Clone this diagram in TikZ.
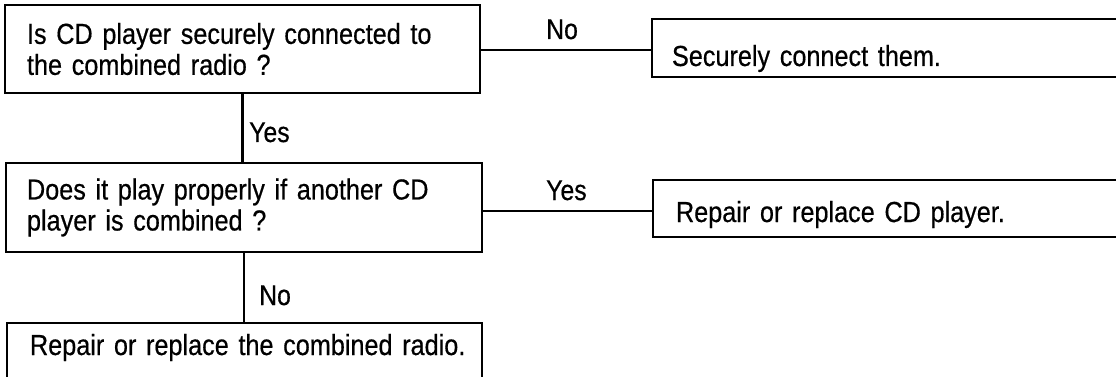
\documentclass[tikz,border=0pt]{standalone}
\usepackage{fontspec}
\setmainfont{Liberation Sans}[FakeStretch=0.87, WordSpace=0.75, FakeBold=0.5]
\begin{document}
\begin{tikzpicture}[x=1pt,y=-1pt]
\tikzset{
  box/.style={draw, line width=2.6pt, outer sep=0pt, inner ysep=0pt, align=left,
    anchor=north west, font=\fontsize{29}{31}\selectfont},
  conn/.style={line width=2.1pt},
  lbl/.style={font=\fontsize{28.5}{30}\selectfont, inner sep=0pt, anchor=base west},
}
\fill[white] (0,0) rectangle (1116,377);
\useasboundingbox (0,0) rectangle (1116,377);
\clip (0,0) rectangle (1116,377);

\node[box, minimum height=88pt, inner xsep=22pt, text width=431pt] (q1) at (5,5)
  {Is CD player securely connected to\\the combined radio ?};
\node[box, inner xsep=20pt, text width=560pt, text height=47pt, text depth=11pt] (a1) at (652,19)
  {Securely connect them.};
\node[box, minimum height=89pt, inner xsep=21pt, text width=434pt] (q2) at (6,163)
  {Does it play properly if another CD\\player is combined ?};
\node[box, inner xsep=23pt, text width=560pt, text height=42pt, text depth=15pt] (a2) at (653,180)
  {Repair or replace CD player.};
\node[box, inner xsep=23pt, text width=429pt, text height=32pt, text depth=70pt] (a3) at (7,323)
  {\mbox{Repair or replace the combined radio.}};

\draw[conn] ([yshift=-1pt]q1.east) -- ([yshift=-1pt]q1.east -| a1.west);
\draw[conn] ([yshift=-3.5pt]q2.east) -- ([yshift=-3.5pt]q2.east -| a2.west);
\draw[conn] (q1.south) -- (q1.south |- q2.north);
\draw[conn] (q2.south) -- (q2.south |- a3.north);

\node[lbl] (l1) at (546,39) {No};
\node[lbl] (l2) at (249,142) {Yes};
\node[lbl] (l3) at (546,200) {Yes};
\node[lbl] (l4) at (259,305) {No};
\end{tikzpicture}
\end{document}
